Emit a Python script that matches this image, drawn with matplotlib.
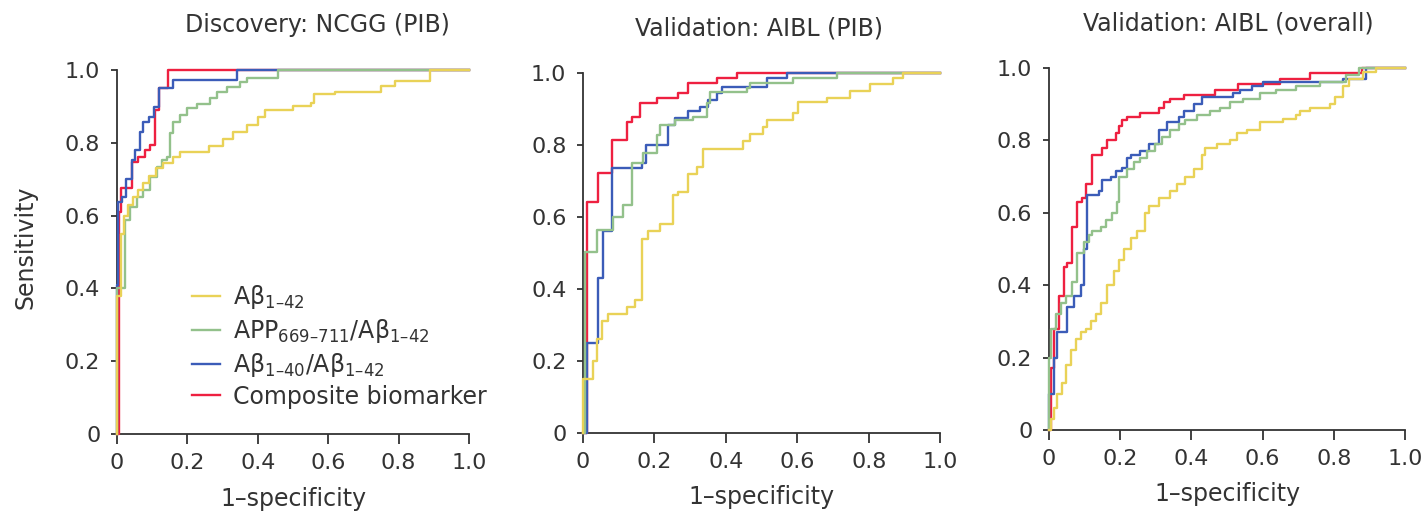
import numpy as np
import matplotlib
matplotlib.use("Agg")
import matplotlib.pyplot as plt

plt.rcParams['font.family'] = ['DejaVu Sans']
plt.rcParams['mathtext.fontset'] = 'dejavusans'

titles = ['Discovery: NCGG (PIB)', 'Validation: AIBL (PIB)', 'Validation: AIBL (overall)']
labels = ['Aβ$_{\\mathregular{1–42}}$',
          'APP$_{\\mathregular{669–711}}$/Aβ$_{\\mathregular{1–42}}$',
          'Aβ$_{\\mathregular{1–40}}$/Aβ$_{\\mathregular{1–42}}$',
          'Composite biomarker']
colors = ['#e9d257', '#93c18b', '#3b5cb8', '#ee2040']
ticks = [0, 0.2, 0.4, 0.6, 0.8, 1.0]
ticklabels = ['0', '0.2', '0.4', '0.6', '0.8', '1.0']

# ---- Discovery: NCGG (PIB) ----
ncgg_ab42_x = [0, 0.0, 0.01, 0.02, 0.03, 0.045, 0.06, 0.075, 0.09, 0.11, 0.13, 0.16, 0.18, 0.26,
               0.30, 0.33, 0.37, 0.40, 0.42, 0.50, 0.55, 0.56, 0.62, 0.75, 0.79, 0.89, 1.0]
ncgg_ab42_y = [0, 0.38, 0.55, 0.60, 0.63, 0.65, 0.67, 0.69, 0.71, 0.73, 0.745, 0.76, 0.775, 0.79,
               0.81, 0.83, 0.85, 0.87, 0.89, 0.90, 0.91, 0.935, 0.94, 0.955, 0.97, 1.0, 1.0]
ncgg_app_x = [0, 0.0, 0.023, 0.037, 0.056, 0.075, 0.094, 0.113, 0.127, 0.141, 0.151, 0.160, 0.179,
              0.198, 0.226, 0.264, 0.283, 0.312, 0.349, 0.368, 0.458, 1.0]
ncgg_app_y = [0, 0.40, 0.588, 0.625, 0.652, 0.670, 0.707, 0.734, 0.753, 0.762, 0.826, 0.858, 0.876,
              0.895, 0.908, 0.922, 0.940, 0.954, 0.968, 0.977, 1.0, 1.0]
ncgg_ratio_x = [0, 0.0, 0.004, 0.013, 0.026, 0.042, 0.051, 0.065, 0.075, 0.092, 0.105, 0.120,
                0.160, 0.340, 1.0]
ncgg_ratio_y = [0, 0.41, 0.638, 0.652, 0.702, 0.753, 0.780, 0.831, 0.858, 0.872, 0.899, 0.950,
                0.973, 1.0, 1.0]
ncgg_comp_x = [0, 0.005, 0.012, 0.042, 0.061, 0.080, 0.094, 0.108, 0.120, 0.146, 1.0]
ncgg_comp_y = [0, 0.61, 0.675, 0.748, 0.762, 0.780, 0.794, 0.890, 0.950, 1.0, 1.0]

# ---- Validation: AIBL (PIB) ----
pib_ab42_x = [0, 0.0, 0.029, 0.038, 0.052, 0.071, 0.122, 0.146, 0.164, 0.183, 0.216, 0.253, 0.267,
              0.295, 0.318, 0.337, 0.449, 0.468, 0.505, 0.514, 0.589, 0.603, 0.683, 0.748, 0.804,
              0.869, 0.897, 1.0]
pib_ab42_y = [0, 0.15, 0.20, 0.26, 0.31, 0.33, 0.35, 0.37, 0.54, 0.56, 0.58, 0.66, 0.67,
              0.72, 0.74, 0.79, 0.81, 0.83, 0.85, 0.87, 0.89, 0.92, 0.93, 0.95, 0.97,
              0.985, 1.0, 1.0]
pib_app_x = [0, 0.005, 0.038, 0.085, 0.113, 0.136, 0.169, 0.206, 0.216, 0.258, 0.309, 0.346, 0.356,
             0.458, 0.468, 0.589, 0.711, 1.0]
pib_app_y = [0, 0.504, 0.564, 0.600, 0.633, 0.749, 0.777, 0.828, 0.856, 0.869, 0.879, 0.916, 0.948,
             0.957, 0.971, 0.985, 1.0, 1.0]
pib_ratio_x = [0, 0.012, 0.043, 0.057, 0.080, 0.164, 0.176, 0.239, 0.258, 0.295, 0.328, 0.351,
               0.374, 0.388, 0.514, 0.570, 1.0]
pib_ratio_y = [0, 0.25, 0.43, 0.56, 0.735, 0.75, 0.80, 0.855, 0.875, 0.895, 0.905, 0.925,
               0.945, 0.96, 0.985, 1.0, 1.0]
pib_comp_x = [0, 0.010, 0.043, 0.080, 0.122, 0.136, 0.160, 0.206, 0.267, 0.295, 0.374, 0.430, 1.0]
pib_comp_y = [0, 0.643, 0.721, 0.814, 0.865, 0.879, 0.916, 0.930, 0.944, 0.971, 0.985, 1.0, 1.0]

# ---- Validation: AIBL (overall) ----
all_ab42_x = [0, 0.005, 0.014, 0.023, 0.037, 0.047, 0.061, 0.075, 0.089, 0.103, 0.117, 0.131, 0.145,
              0.163, 0.182, 0.196, 0.210, 0.229, 0.247, 0.271, 0.280, 0.308, 0.340, 0.359, 0.382,
              0.406, 0.429, 0.438, 0.471, 0.508, 0.527, 0.555, 0.592, 0.658, 0.695, 0.704, 0.732,
              0.788, 0.802, 0.826, 0.844, 0.882, 0.919, 1.0]
all_ab42_y = [0, 0.03, 0.06, 0.10, 0.13, 0.18, 0.22, 0.25, 0.27, 0.28, 0.30, 0.32, 0.35,
              0.40, 0.44, 0.47, 0.50, 0.53, 0.55, 0.60, 0.62, 0.64, 0.66, 0.68, 0.70,
              0.72, 0.76, 0.78, 0.79, 0.80, 0.82, 0.83, 0.85, 0.86, 0.87, 0.88, 0.89,
              0.90, 0.92, 0.95, 0.97, 0.99, 1.0, 1.0]
all_app_x = [0, 0.0, 0.005, 0.019, 0.033, 0.047, 0.065, 0.079, 0.098, 0.112, 0.121, 0.145, 0.159,
             0.177, 0.191, 0.196, 0.219, 0.238, 0.257, 0.275, 0.299, 0.317, 0.340, 0.364, 0.382,
             0.415, 0.452, 0.480, 0.508, 0.546, 0.592, 0.639, 0.695, 0.760, 0.835, 0.872, 1.0]
all_app_y = [0, 0.20, 0.28, 0.32, 0.35, 0.37, 0.41, 0.49, 0.52, 0.54, 0.55, 0.56, 0.58,
             0.60, 0.63, 0.70, 0.72, 0.74, 0.75, 0.77, 0.79, 0.81, 0.83, 0.845, 0.855,
             0.87, 0.88, 0.89, 0.905, 0.915, 0.93, 0.94, 0.95, 0.96, 0.98, 1.0, 1.0]
all_ratio_x = [0, 0.0, 0.014, 0.023, 0.051, 0.070, 0.089, 0.098, 0.107, 0.140, 0.149, 0.173, 0.187,
               0.205, 0.219, 0.229, 0.257, 0.280, 0.308, 0.331, 0.364, 0.378, 0.406, 0.429, 0.518,
               0.536, 0.569, 0.602, 0.826, 0.890, 1.0]
all_ratio_y = [0, 0.10, 0.20, 0.27, 0.34, 0.37, 0.40, 0.50, 0.65, 0.66, 0.69, 0.70, 0.715,
               0.725, 0.75, 0.76, 0.77, 0.79, 0.83, 0.85, 0.865, 0.88, 0.90, 0.92, 0.93,
               0.94, 0.95, 0.96, 0.97, 1.0, 1.0]
all_comp_x = [0, 0.005, 0.014, 0.028, 0.042, 0.051, 0.065, 0.079, 0.093, 0.103, 0.121, 0.149, 0.163,
              0.187, 0.196, 0.205, 0.219, 0.257, 0.308, 0.322, 0.340, 0.378, 0.466, 0.532, 0.648,
              0.732, 0.880, 1.0]
all_comp_y = [0, 0.17, 0.28, 0.37, 0.45, 0.46, 0.56, 0.63, 0.64, 0.68, 0.76, 0.78, 0.80,
              0.82, 0.84, 0.855, 0.865, 0.875, 0.89, 0.905, 0.915, 0.925, 0.94, 0.955, 0.97,
              0.985, 1.0, 1.0]

panels = [
    [(ncgg_ab42_x, ncgg_ab42_y), (ncgg_app_x, ncgg_app_y), (ncgg_ratio_x, ncgg_ratio_y), (ncgg_comp_x, ncgg_comp_y)],
    [(pib_ab42_x, pib_ab42_y), (pib_app_x, pib_app_y), (pib_ratio_x, pib_ratio_y), (pib_comp_x, pib_comp_y)],
    [(all_ab42_x, all_ab42_y), (all_app_x, all_app_y), (all_ratio_x, all_ratio_y), (all_comp_x, all_comp_y)],
]

fig = plt.figure(figsize=(14.27, 5.17), dpi=100)
rects = [[0.0820, 0.1605, 0.2467, 0.7040],
         [0.4086, 0.1625, 0.2502, 0.6963],
         [0.7351, 0.1683, 0.2495, 0.7002]]
title_x = [0.568, 0.493, 0.503]

for i in range(3):
    ax = fig.add_axes(rects[i])
    handles = [None] * 4
    # composite drawn first, Abeta1-42 last (on top)
    for j in [3, 2, 1, 0]:
        x, y = panels[i][j]
        ln, = ax.plot(x, y, drawstyle='steps-post', color=colors[j], lw=1.7,
                      clip_on=False, zorder=2 + (3 - j) * 0.1)
        handles[j] = ln
    ax.set_xlim(0, 1)
    ax.set_ylim(0, 1)
    for s in ['top', 'right']:
        ax.spines[s].set_visible(False)
    for s in ['left', 'bottom']:
        ax.spines[s].set_linewidth(1.3)
        ax.spines[s].set_color('#333333')
        ax.spines[s].set_zorder(1)
    ax.set_xticks(ticks)
    ax.set_xticklabels(ticklabels)
    ax.set_yticks(ticks)
    ax.set_yticklabels(ticklabels)
    ax.tick_params(axis='x', length=7, width=1.3, color='#333333', pad=7, labelsize=16, labelcolor='#333333')
    ax.tick_params(axis='y', length=4, width=1.3, color='#333333', pad=8, labelsize=16, labelcolor='#333333')
    ax.set_xlabel('1–specificity', fontsize=17, color='#333333')
    ax.xaxis.set_label_coords(0.5, -0.145)
    ax.text(title_x[i], 1.124, titles[i], transform=ax.transAxes, ha='center', va='center',
            fontsize=17, color='#333333')
    if i == 0:
        ax.set_ylabel('Sensitivity', fontsize=17, color='#333333')
        ax.yaxis.set_label_coords(-0.225, 0.514)
        ax.legend(handles, labels, loc='upper left', bbox_to_anchor=(0.213, 0.415),
                  frameon=False, fontsize=17, handlelength=1.2, handletextpad=0.55,
                  borderpad=0, borderaxespad=0, labelspacing=0.25, labelcolor='#333333')

fig.savefig('out.png', dpi=100)
